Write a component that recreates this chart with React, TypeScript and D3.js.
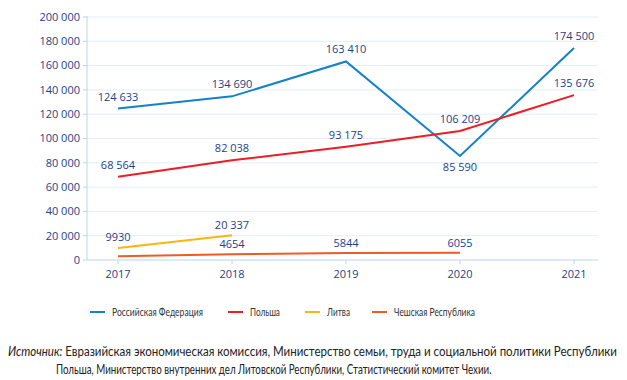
import React, { useLayoutEffect, useRef, useState } from "react";
import * as d3 from "d3";

const years = [2017, 2018, 2019, 2020, 2021];
const russia = [124633, 134690, 163410, 85590, 174500];
const poland = [68564, 82038, 93175, 106209, 135676];
const lithuania = [9930, 20337];
const czech = [3000, 4654, 5844, 6055];
const yTicks = [0, 20000, 40000, 60000, 80000, 100000, 120000, 140000, 160000, 180000, 200000];
const russiaLabels = ["124 633", "134 690", "163 410", "85 590", "174 500"];
const polandLabels = ["68 564", "82 038", "93 175", "106 209", "135 676"];
const lithuaniaLabels = ["9930", "20 337"];
const czechLabels = ["", "4654", "5844", "6055"];
const legendNames = ["Российская Федерация", "Польша", "Литва", "Чешская Республика"];

const C_RU = "#1382c7";
const C_PL = "#ee1c25";
const C_LT = "#fbb316";
const C_CZ = "#f15a24";
const TXT = "#1e3f87";
const AXIS = "#b9d6ef";
const GRID = "#e3eef8";

const fmt = (v: number) => (v === 0 ? "0" : d3.format(",")(v).replace(/,/g, " "));

function FitText(props: { x: number; y: number; width: number; fontSize: number; fill: string; fontFamily: string; dy?: string; children: React.ReactNode }) {
  const ref = useRef<SVGTextElement>(null);
  const [sx, setSx] = useState(1);
  useLayoutEffect(() => {
    if (ref.current) {
      const w = ref.current.getComputedTextLength();
      if (w > 0) setSx(props.width / w);
    }
  }, [props.width]);
  return (
    <g transform={`translate(${props.x},${props.y}) scale(${sx},1)`}>
      <text ref={ref} x={0} y={0} dy={props.dy} fontSize={props.fontSize} fill={props.fill} fontFamily={props.fontFamily}>
        {props.children}
      </text>
    </g>
  );
}

export default function App() {
  const x = d3.scaleLinear().domain([2017, 2021]).range([118, 574]);
  const y = d3.scaleLinear().domain([0, 200000]).range([260, 17]);
  const line = (vals: number[]) =>
    d3.line<number>().x((_, i) => x(years[i])).y((v) => y(v))(vals) || "";

  const series = [
    { vals: russia, color: C_RU },
    { vals: poland, color: C_PL },
    { vals: lithuania, color: C_LT },
    { vals: czech, color: C_CZ },
  ];

  const font = "'Open Sans', 'Noto Sans', sans-serif";
  const font2 = "Lato, 'Noto Sans', sans-serif";
  const labelOffsets = {
    ru: [-8, -8, -8, 15, -8],
    pl: [-8, -8, -8, -8, -8],
    lt: [-7, -6],
    cz: [0, -6, -6, -6],
  };
  const legendX = [90, 228, 305, 372];
  const legendW = [91, 30, 23, 81];
  const legendColors = [C_RU, C_PL, C_LT, C_CZ];

  return (
    <svg width={627} height={380} style={{ display: "block", position: "absolute", left: 0, top: 0 }} fontFamily={font}>
      <rect width={627} height={380} fill="#fff" />
      {yTicks.map((t) => (
        <g key={t}>
          {t > 0 && <line x1={87} x2={598} y1={y(t)} y2={y(t)} stroke={GRID} strokeWidth={1} />}
          <line x1={83} x2={87} y1={y(t)} y2={y(t)} stroke={AXIS} strokeWidth={1} />
          <text x={80} y={y(t)} dy="0.35em" textAnchor="end" fontSize={11} fill={TXT}>
            {fmt(t)}
          </text>
        </g>
      ))}
      <line x1={87} x2={87} y1={16} y2={260} stroke={AXIS} strokeWidth={1} />
      <line x1={87} x2={598} y1={260} y2={260} stroke={AXIS} strokeWidth={1.2} />
      {years.map((yr) => (
        <g key={yr}>
          <line x1={x(yr)} x2={x(yr)} y1={260} y2={264} stroke={AXIS} strokeWidth={1} />
          <text x={x(yr)} y={278} textAnchor="middle" fontSize={11} fill={TXT}>
            {yr}
          </text>
        </g>
      ))}
      {series.map((s, i) => (
        <path key={i} d={line(s.vals)} fill="none" stroke={s.color} strokeWidth={2} />
      ))}
      {russia.map((v, i) => (
        <text key={"ru" + i} x={x(years[i])} y={y(v) + labelOffsets.ru[i]} textAnchor="middle" fontSize={11} fill={TXT}>
          {russiaLabels[i]}
        </text>
      ))}
      {poland.map((v, i) => (
        <text key={"pl" + i} x={x(years[i])} y={y(v) + labelOffsets.pl[i]} textAnchor="middle" fontSize={11} fill={TXT}>
          {polandLabels[i]}
        </text>
      ))}
      {lithuania.map((v, i) => (
        <text key={"lt" + i} x={x(years[i])} y={y(v) + labelOffsets.lt[i]} textAnchor="middle" fontSize={11} fill={TXT}>
          {lithuaniaLabels[i]}
        </text>
      ))}
      {czech.map((v, i) =>
        czechLabels[i] ? (
          <text key={"cz" + i} x={x(years[i])} y={y(v) + labelOffsets.cz[i]} textAnchor="middle" fontSize={11} fill={TXT}>
            {czechLabels[i]}
          </text>
        ) : null
      )}
      {legendNames.map((n, i) => (
        <g key={n}>
          <line x1={legendX[i]} x2={legendX[i] + 15} y1={312} y2={312} stroke={legendColors[i]} strokeWidth={2} />
          <FitText x={legendX[i] + 22} y={312} dy="0.35em" width={legendW[i]} fontSize={11.5} fill="#333" fontFamily={font2}>
            {n}
          </FitText>
        </g>
      ))}
      <FitText x={8} y={356} width={610} fontSize={13} fill="#222" fontFamily={font2}>
        <tspan fontStyle="italic">Источник:</tspan> Евразийская экономическая комиссия, Министерство семьи, труда и социальной политики Республики
      </FitText>
      <FitText x={56} y={374} width={436} fontSize={13} fill="#222" fontFamily={font2}>
        Польша, Министерство внутренних дел Литовской Республики, Статистический комитет Чехии.
      </FitText>
    </svg>
  );
}
